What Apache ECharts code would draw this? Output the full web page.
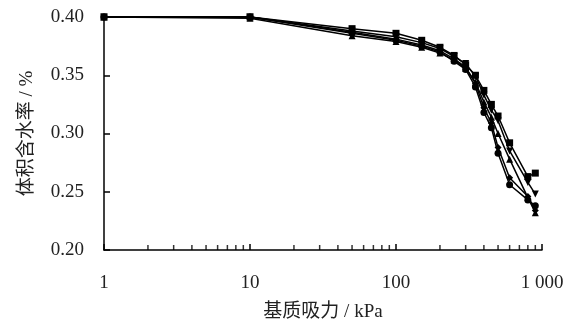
<!DOCTYPE html>
<html><head><meta charset="utf-8">
<script src="https://cdn.jsdelivr.net/npm/echarts@6/dist/echarts.min.js"></script>
<style>html,body{margin:0;padding:0;background:#fff}#c{width:564px;height:322px}</style>
</head><body><div id="c"></div>
<script>
const suction = [1, 10, 50, 100, 150, 200, 250, 300, 350, 400, 450, 500, 600, 800, 900];
const seriesCircle   = [0.400,0.400,0.386,0.380,0.375,0.370,0.362,0.355,0.340,0.318,0.305,0.283,0.256,0.243,0.238];
const seriesDiamond  = [0.400,0.400,0.387,0.381,0.376,0.371,0.364,0.357,0.343,0.322,0.309,0.288,0.262,0.246,0.234];
const seriesTriangle = [0.400,0.399,0.384,0.379,0.374,0.369,0.363,0.356,0.344,0.327,0.314,0.300,0.278,0.245,0.232];
const seriesInvTri   = [0.400,0.400,0.388,0.383,0.378,0.373,0.366,0.360,0.349,0.333,0.320,0.311,0.285,0.258,0.248];
const seriesSquare   = [0.400,0.400,0.390,0.386,0.380,0.374,0.367,0.359,0.350,0.337,0.325,0.315,0.292,0.263,0.266];
const minorTickValues = [2,3,4,5,6,7,8,9,20,30,40,50,60,70,80,90,200,300,400,500,600,700,800,900];

const pair = arr => suction.map((x, i) => [x, arr[i]]);
const serif = 'Liberation Serif';
const mk = (name, arr, symbol, rot) => ({
  name, type: 'line', data: pair(arr), symbol, symbolSize: 7, symbolRotate: rot || 0,
  lineStyle: { color: '#000', width: 1.5 }, itemStyle: { color: '#000' }, clip: false, z: 3
});

const chart = echarts.init(document.getElementById('c'), null, { renderer: 'canvas' });
chart.setOption({
  animation: false,
  grid: { left: 104, right: 22, top: 17, bottom: 72, containLabel: false, outerBoundsMode: 'none' },
  xAxis: {
    type: 'log', logBase: 10, min: 1, max: 1000,
    name: '基质吸力 / kPa', nameLocation: 'middle', nameGap: 53,
    nameTextStyle: { fontFamily: serif + ', Noto Sans CJK SC', fontSize: 19, color: '#222' },
    axisLine: { lineStyle: { color: '#000', width: 1.5 } },
    axisTick: { inside: true, length: 6, lineStyle: { color: '#000', width: 1.5 } },
    axisLabel: { margin: 24, fontFamily: serif, fontSize: 19, color: '#222',
      formatter: v => v >= 1000 ? '1 000' : String(v) },
    splitLine: { show: false }
  },
  yAxis: {
    type: 'value', min: 0.2, max: 0.4, interval: 0.05,
    name: '体积含水率 / %', nameLocation: 'middle', nameGap: 67, nameRotate: 90,
    nameTextStyle: { fontFamily: serif + ', Noto Sans CJK SC', fontSize: 19, color: '#222' },
    axisLine: { show: true, lineStyle: { color: '#000', width: 1.5 } },
    axisTick: { show: true, inside: true, length: 6, lineStyle: { color: '#000', width: 1.5 } },
    axisLabel: { margin: 20, fontFamily: serif, fontSize: 19, color: '#222',
      formatter: v => v.toFixed(2) },
    splitLine: { show: false }
  },
  series: [
    mk('circle', seriesCircle, 'circle'),
    mk('diamond', seriesDiamond, 'diamond'),
    mk('triangle', seriesTriangle, 'triangle'),
    mk('invtri', seriesInvTri, 'triangle', 180),
    mk('square', seriesSquare, 'rect'),
    { type: 'scatter', data: minorTickValues.map(v => [v, 0.2]), symbol: 'rect',
      symbolSize: [1.5, 5], symbolOffset: [0, -2.5], itemStyle: { color: '#000' },
      silent: true, clip: false, z: 2 }
  ]
});
</script></body></html>
